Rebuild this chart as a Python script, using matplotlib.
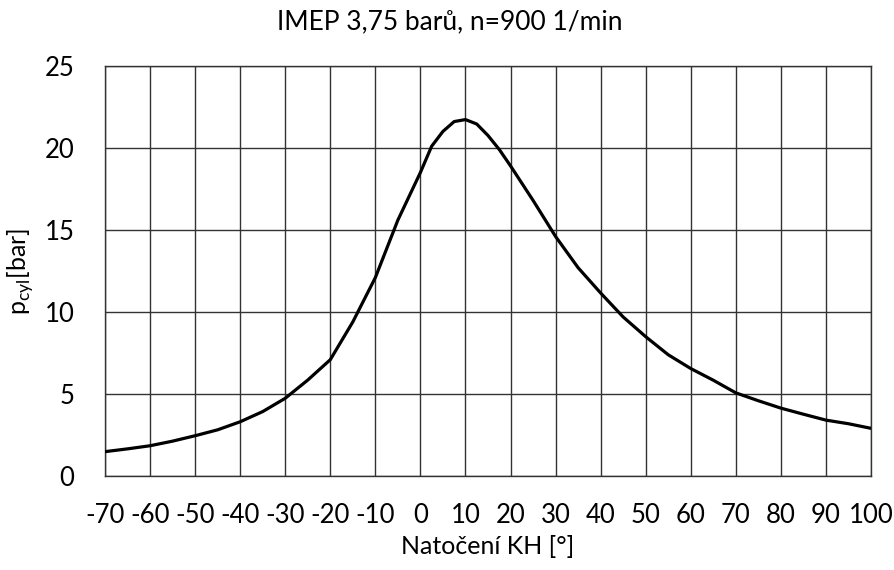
import matplotlib
matplotlib.use('Agg')
import matplotlib.pyplot as plt

plt.rcParams['font.family'] = ['Lato', 'DejaVu Sans']
plt.rcParams['axes.unicode_minus'] = False

# crank angle [deg] and cylinder pressure [bar]
angle = [-70, -65, -60, -55, -50, -45, -40, -35, -30, -25, -20, -15, -10, -5,
         0, 2.5, 5, 7.5, 10, 12.5, 15, 17.5, 20, 25, 30, 35, 40, 45, 50, 55,
         60, 65, 70, 75, 80, 85, 90, 95, 100]
p_cyl = [1.50, 1.67, 1.86, 2.14, 2.47, 2.83, 3.32, 3.94, 4.75, 5.86, 7.10, 9.40,
         12.1, 15.6, 18.5, 20.1, 21.0, 21.6, 21.72, 21.45, 20.75, 19.9, 18.9,
         16.8, 14.6, 12.7, 11.16, 9.7, 8.5, 7.4, 6.56, 5.85, 5.08, 4.6, 4.15,
         3.78, 3.42, 3.2, 2.92]

x_ticks = list(range(-70, 101, 10))
y_ticks = [0, 5, 10, 15, 20, 25]

title = 'IMEP 3,75 barů, n=900 1/min'
x_label = 'Natočení KH [°]'
y_label = r'p$_{\mathregular{cyl}}$[bar]'

fig = plt.figure(figsize=(8.95, 5.7), dpi=100)
ax = fig.add_axes([0.1173, 0.1644, 0.8559, 0.7203])

ax.plot(angle, p_cyl, color='black', linewidth=2.3, zorder=3)

ax.set_xlim(-70, 100)
ax.set_ylim(0, 25)
ax.set_xticks(x_ticks)
ax.set_yticks(y_ticks)
ax.grid(True, color='#333333', linewidth=1.0)
ax.set_axisbelow(True)
for s in ax.spines.values():
    s.set_color('#333333')
    s.set_linewidth(1.0)

ax.tick_params(axis='both', length=0, labelsize=18.5, colors='black')
ax.tick_params(axis='x', pad=19)
ax.tick_params(axis='y', pad=22)

fig.text(0.502, 0.962, title, fontsize=19, ha='center', va='center')
ax.set_xlabel(x_label, fontsize=18, labelpad=5)
ax.set_ylabel(y_label, fontsize=18, labelpad=6)

fig.savefig('out.png', dpi=100)
